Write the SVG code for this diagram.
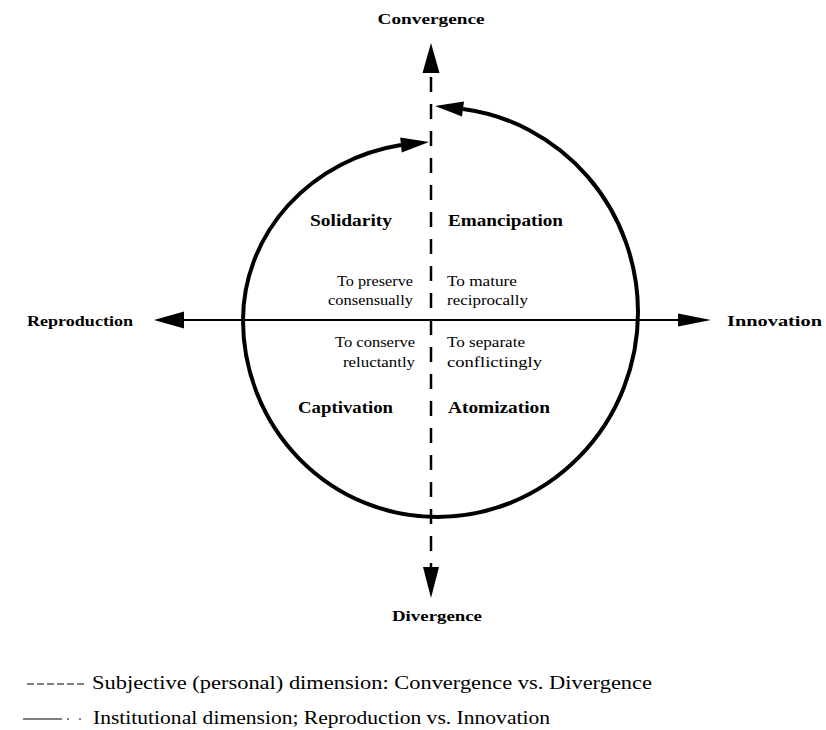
<svg xmlns="http://www.w3.org/2000/svg" width="826" height="730" viewBox="0 0 826 730">
<style>
.axis{font-family:"Liberation Serif","Times New Roman",serif;font-weight:bold;font-size:15px;fill:#000}
.quad{font-family:"Liberation Serif","Times New Roman",serif;font-weight:bold;font-size:16px;fill:#000}
.small{font-family:"Liberation Serif","Times New Roman",serif;font-size:14px;fill:#000}
.legend{font-family:"Liberation Serif","Times New Roman",serif;font-size:18px;fill:#000}
.arc{fill:none;stroke:#000;stroke-width:4}
.dash{stroke:#000;stroke-width:2.5;stroke-dasharray:15 12;fill:none}
.solid{stroke:#000;stroke-width:1.8;fill:none}
.head{fill:#000;stroke:none}
</style>
<rect width="826" height="730" fill="#fff"/>
<g id="connectors">
  <line class="dash" x1="431" y1="77" x2="431" y2="568"/>
  <polygon class="head" points="431,43 422.5,73 439.5,73"/>
  <polygon class="head" points="431,598 423,567 439,567"/>
  <line class="solid" x1="183" y1="320" x2="679" y2="320"/>
  <polygon class="head" points="154,320 184,311.5 184,328.5"/>
  <polygon class="head" points="711,320 678,313.5 678,326.5"/>
  <path class="arc" d="M 437 517 A 194 197 0 0 1 243 320 A 190 178 0 0 1 401 145"/>
  <polygon class="head" points="429,142 400.2,137.5 401.8,152.5"/>
  <path class="arc" d="M 437 517 A 201 205 0 0 0 638 312 A 201 205 0 0 0 463 109"/>
  <polygon class="head" points="435,106 464,101.5 462,116.5"/>
</g>
<g id="convergence"><text class="axis" x="431" y="24" text-anchor="middle" textLength="107" lengthAdjust="spacingAndGlyphs">Convergence</text></g>
<g id="divergence"><text class="axis" x="437" y="621" text-anchor="middle" textLength="90" lengthAdjust="spacingAndGlyphs">Divergence</text></g>
<g id="reproduction"><text class="axis" x="27" y="326" textLength="106" lengthAdjust="spacingAndGlyphs">Reproduction</text></g>
<g id="innovation"><text class="axis" x="727" y="326" textLength="95" lengthAdjust="spacingAndGlyphs">Innovation</text></g>
<g id="solidarity">
  <text class="quad" x="310" y="226" textLength="82" lengthAdjust="spacingAndGlyphs">Solidarity</text>
  <text class="small" x="413" y="286" text-anchor="end" textLength="76" lengthAdjust="spacingAndGlyphs">To preserve</text>
  <text class="small" x="413" y="305" text-anchor="end" textLength="85" lengthAdjust="spacingAndGlyphs">consensually</text>
</g>
<g id="emancipation">
  <text class="quad" x="448" y="226" textLength="115" lengthAdjust="spacingAndGlyphs">Emancipation</text>
  <text class="small" x="447" y="286" textLength="70" lengthAdjust="spacingAndGlyphs">To mature</text>
  <text class="small" x="447" y="305" textLength="81" lengthAdjust="spacingAndGlyphs">reciprocally</text>
</g>
<g id="captivation">
  <text class="quad" x="298" y="413" textLength="95" lengthAdjust="spacingAndGlyphs">Captivation</text>
  <text class="small" x="415" y="347" text-anchor="end" textLength="80" lengthAdjust="spacingAndGlyphs">To conserve</text>
  <text class="small" x="415" y="367" text-anchor="end" textLength="72" lengthAdjust="spacingAndGlyphs">reluctantly</text>
</g>
<g id="atomization">
  <text class="quad" x="448" y="413" textLength="102" lengthAdjust="spacingAndGlyphs">Atomization</text>
  <text class="small" x="447" y="347" textLength="78" lengthAdjust="spacingAndGlyphs">To separate</text>
  <text class="small" x="447" y="367" textLength="95" lengthAdjust="spacingAndGlyphs">conflictingly</text>
</g>
<g id="legend">
  <line x1="27" y1="684" x2="84" y2="684" stroke="#000" stroke-width="1.2" stroke-dasharray="7 3"/>
  <text class="legend" x="92" y="689" textLength="560" lengthAdjust="spacingAndGlyphs">Subjective (personal) dimension: Convergence vs. Divergence</text>
  <line x1="23" y1="719" x2="62" y2="719" stroke="#000" stroke-width="1.2"/>
  <line x1="67" y1="719" x2="69" y2="719" stroke="#000" stroke-width="1.2"/>
  <line x1="79" y1="719" x2="81" y2="719" stroke="#000" stroke-width="1.2"/>
  <text class="legend" x="93" y="724" textLength="457" lengthAdjust="spacingAndGlyphs">Institutional dimension; Reproduction vs. Innovation</text>
</g>
</svg>
